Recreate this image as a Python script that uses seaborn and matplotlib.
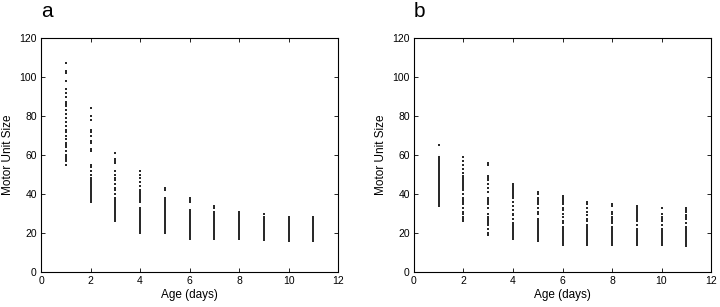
import numpy as np
import pandas as pd
import matplotlib
matplotlib.use("Agg")
import matplotlib.pyplot as plt
import seaborn as sns

# motor unit sizes, one list per day of age
days = list(range(1, 12))

sizes_a = [
    [107, 103, 102, 98, 94, 92, 90, 87, 86, 85, 83, 81, 79, 77, 75, 73, 72, 70,
     68, 66, 65, 64, 62, 60, 59, 58, 57, 55],
    [84, 80, 78, 73, 72, 70, 67, 66, 63, 62, 55, 54, 52, 50, 48, 47, 46, 45.5,
     45, 44, 43.5, 43, 42, 41, 40, 39, 38, 37, 36],
    [61, 58, 57, 56, 52, 50, 48, 47, 45, 43, 42, 40, 38, 37, 36, 35, 34.5, 34,
     33, 32, 31, 30, 29, 28, 27, 26],
    [52, 50, 48, 46, 44, 42, 41, 40, 39, 38, 37, 36, 33, 32, 31, 30, 29.5, 29,
     28, 27, 26, 25, 24, 23, 22, 21, 20],
    [43, 42, 38, 37, 36, 35, 34, 33, 32, 31, 30, 29, 28.5, 28, 27, 26, 25.5, 25,
     24, 23, 22, 21, 20],
    [38, 37, 36, 32, 31, 30, 29, 28, 27, 26, 25.5, 25, 24, 23, 22.5, 22, 21, 20,
     19, 18, 17],
    [34, 33, 31, 30, 29, 28, 27, 26, 25, 24.5, 24, 23, 22.5, 22, 21, 20, 19, 18,
     17],
    [31, 30, 29, 28, 27, 26, 25, 24, 23.5, 23, 22, 21.5, 21, 20, 19, 18, 17],
    [29.5, 28, 27, 26, 25, 24, 23, 22.5, 22, 21, 20.5, 20, 19, 18, 17, 16.5],
    [28, 27, 26, 25, 24, 23, 22.5, 22, 21, 20.5, 20, 19, 18, 17, 16],
    [28, 27, 26, 25, 24, 23, 22.5, 22, 21, 20.5, 20, 19, 18, 17, 16],
]

sizes_b = [
    [65, 59, 58, 57, 56, 55, 54, 53, 52, 51, 50, 49, 48, 47, 46, 45, 44, 43,
     42, 41, 40, 39, 38, 37, 36, 35, 34],
    [59, 57, 55, 53, 51, 49, 48, 47, 46, 45, 44, 43, 42, 40, 38, 37, 36, 35,
     33, 31, 30, 28, 27, 26],
    [56, 55, 49, 48, 47, 45, 43, 41, 38, 37, 36, 35, 33, 30, 28, 27, 26, 25,
     24, 22, 20, 19],
    [45, 44, 43, 42, 41, 40, 39, 38, 36, 34, 32, 30, 29, 27, 25, 24, 23, 22,
     21, 20, 19, 18, 17],
    [41, 40, 38, 37, 36, 35, 33, 31, 30, 27, 26, 25, 24, 23, 22, 21, 20, 19,
     18, 17, 16],
    [39, 38, 37, 36, 35, 33, 32, 30, 28, 26, 25, 23, 22, 21, 20, 19, 18, 17,
     16, 15, 14],
    [36, 35, 33, 31, 29, 27, 26, 24, 23, 22, 21, 20, 19, 18, 17, 16, 15, 14],
    [35, 34, 31, 30, 28, 27, 26, 25, 23, 22, 21, 20, 19, 18, 17, 16, 15, 14],
    [34, 33, 32, 31, 30, 29, 28, 27, 26, 24, 22, 21, 20, 19, 18, 17, 16, 15,
     14],
    [33, 30, 28, 27, 26, 24, 22, 21, 20, 19, 18, 17, 16, 15, 14],
    [33, 32, 31, 29, 28, 27, 25, 23, 22, 21, 20, 19, 18, 17, 16, 15, 14, 13.5],
]

panel_labels = ["a", "b"]


def to_frame(sizes):
    rows = []
    for d, vals in zip(days, sizes):
        for v in vals:
            rows.append({"Age": d, "Size": v})
    return pd.DataFrame(rows)


sns.set_style("ticks")
plt.rcParams["font.family"] = ["Liberation Sans", "DejaVu Sans"]
plt.rcParams["text.color"] = "black"
plt.rcParams["axes.labelcolor"] = "black"
plt.rcParams["xtick.color"] = "black"
plt.rcParams["ytick.color"] = "black"
plt.rcParams["axes.edgecolor"] = "black"

fig = plt.figure(figsize=(7.2, 3.07), dpi=100)
ax_a = fig.add_axes([0.057, 0.114, 0.4125, 0.762])
ax_b = fig.add_axes([0.575, 0.114, 0.4125, 0.762])

for ax, sizes, lab in zip([ax_a, ax_b], [sizes_a, sizes_b], panel_labels):
    df = to_frame(sizes)
    sns.scatterplot(data=df, x="Age", y="Size", ax=ax, color="#2a2a2a",
                    marker="s", s=1.1, linewidth=0)
    ax.set_xlim(0, 12)
    ax.set_ylim(0, 120)
    ax.set_xticks(range(0, 13, 2))
    ax.set_yticks(range(0, 121, 20))
    ax.tick_params(direction="in", length=3, width=0.6, labelsize=7.5,
                   top=True, right=True, pad=3)
    for sp in ax.spines.values():
        sp.set_linewidth(0.8)
        sp.set_visible(True)
    ax.set_xlabel("Age (days)", fontsize=8.5, labelpad=2)
    ax.set_ylabel("Motor Unit Size", fontsize=8.5, labelpad=4)
    ax.text(0.0, 1.09, lab, transform=ax.transAxes, fontsize=15,
            ha="left", va="baseline")

fig.savefig("out.png", dpi=100)
